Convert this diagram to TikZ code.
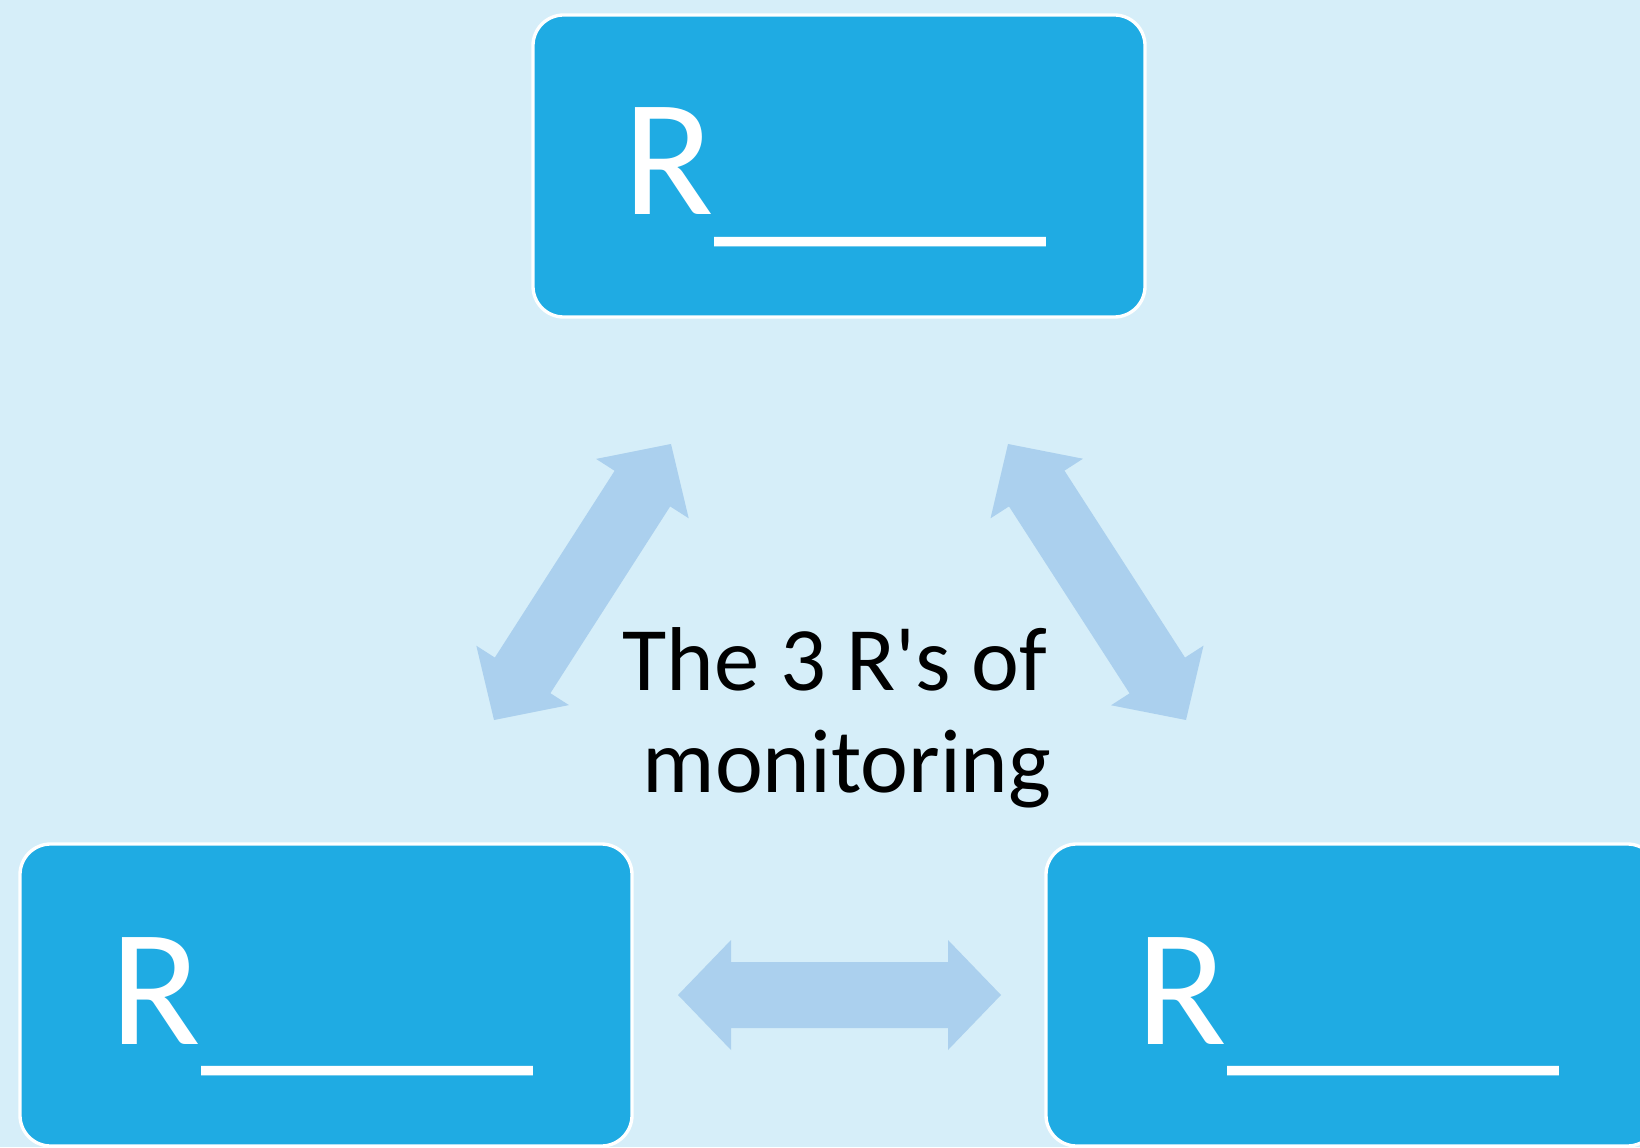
\documentclass[tikz,border=0pt]{standalone}
\usepackage{fontspec}
\setmainfont{Carlito}
\usetikzlibrary{calc}
\definecolor{bgblue}{RGB}{214,238,249}
\definecolor{boxblue}{RGB}{31,171,227}
\definecolor{arrowblue}{RGB}{171,208,238}
\def\ahl{39.75pt}
\def\ahs{24.75pt}
\def\ahe{41.25pt}
\newcommand\dblblock[2]{%
  \fill[arrowfill] (#1)
    -- ($(#1)!\ahl!(#2)!\ahe!90:(#2)$)
    -- ($(#1)!\ahl!(#2)!\ahs!90:(#2)$)
    -- ($(#2)!\ahl!(#1)!\ahs!-90:(#1)$)
    -- ($(#2)!\ahl!(#1)!\ahe!-90:(#1)$)
    -- (#2)
    -- ($(#2)!\ahl!(#1)!\ahe!90:(#1)$)
    -- ($(#2)!\ahl!(#1)!\ahs!90:(#1)$)
    -- ($(#1)!\ahl!(#2)!\ahs!-90:(#2)$)
    -- ($(#1)!\ahl!(#2)!\ahe!-90:(#2)$)
    -- cycle;}
\newcommand\blank{R\raisebox{-7pt}{\_\_\_\_}\kern6pt}
\tikzset{
  rbox/.style={draw=white, line width=2.5pt, fill=boxblue, rounded corners=23pt,
    minimum width=459pt, minimum height=226.5pt, inner sep=0pt,
    text height=150pt, text depth=76.5pt, text=white,
    font=\fontsize{125pt}{125pt}\selectfont},
  arrowfill/.style={fill=arrowblue},
  midtext/.style={anchor=base, inner sep=0pt, text=black,
    font=\fontsize{68pt}{82pt}\selectfont}
}
\begin{document}
\begin{tikzpicture}[x=0.75pt,y=0.75pt]
\useasboundingbox (0,0) rectangle (1640,1147);
\clip (0,0) rectangle (1640,1147);
\fill[bgblue] (0,0) rectangle (1640,1147);
% boxes
\node[rbox] (top) at (839,981) {\blank};
\node[rbox] (left) at (326,152) {\blank};
\node[rbox] (right) at (1352,152) {\blank};
% arrow end points
\coordinate (la) at (494,427);
\coordinate (lb) at (671,703);
\coordinate (ra) at (1008,703);
\coordinate (rb) at (1186,427);
\coordinate (ha) at (678,152);
\coordinate (hb) at (1001,152);
\dblblock{la}{lb}
\dblblock{ra}{rb}
\dblblock{ha}{hb}
% centre text
\node[midtext] (t1) at (835,457) {The 3 R\textquotesingle s of};
\node[midtext] (t2) at (847,355) {monitoring};
\end{tikzpicture}
\end{document}
